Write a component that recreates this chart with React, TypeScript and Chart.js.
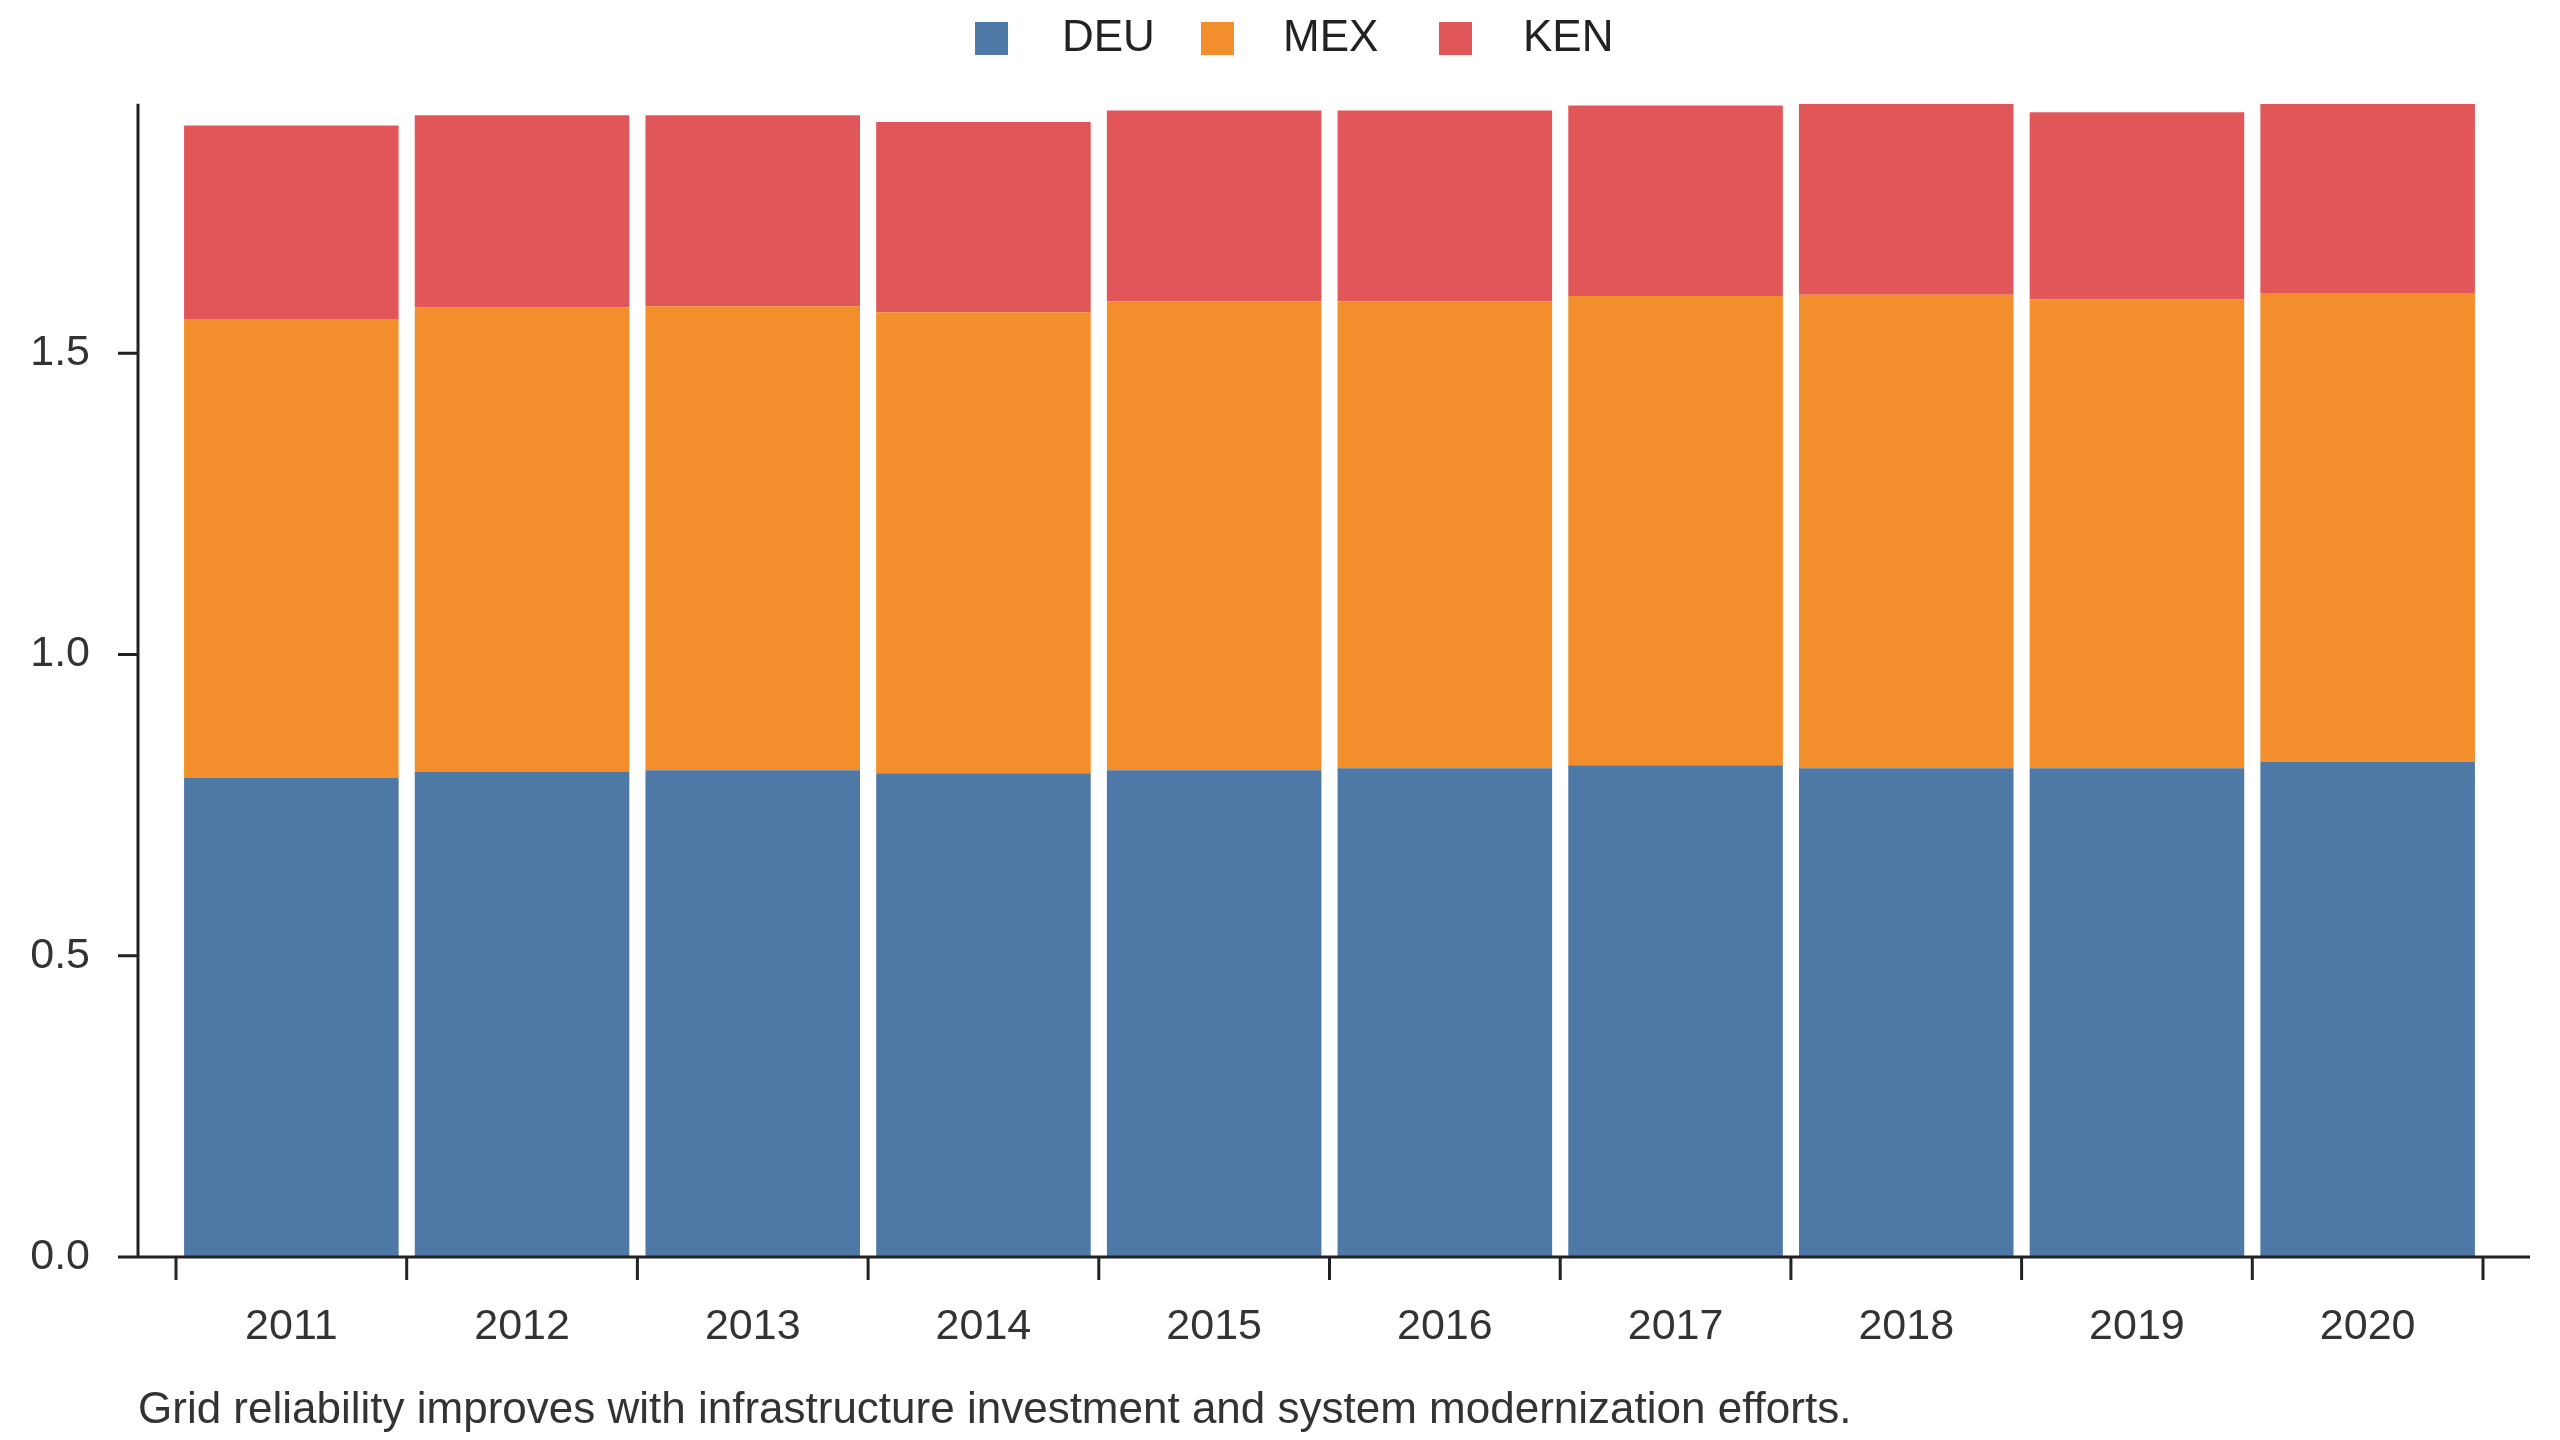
import React, { useEffect, useRef } from "react";
import { Chart, registerables } from "chart.js";
Chart.register(...registerables);

const years = ["2011","2012","2013","2014","2015","2016","2017","2018","2019","2020"];
const deu = [0.795,0.805,0.808,0.803,0.808,0.811,0.816,0.811,0.811,0.822];
const mex = [0.762,0.771,0.770,0.765,0.778,0.775,0.779,0.786,0.778,0.778];
const ken = [0.321,0.319,0.317,0.316,0.317,0.317,0.316,0.317,0.311,0.314];
const yTicks = [0, 0.5, 1.0, 1.5];
const seriesNames = ["DEU", "MEX", "KEN"];
const colors = ["#4e79a7", "#f28e2b", "#e15759"];
const caption = "Grid reliability improves with infrastructure investment and system modernization efforts.";

const FONT = "'Liberation Sans', Arial, sans-serif";

export default function App() {
  const ref = useRef<HTMLCanvasElement>(null);
  useEffect(() => {
    document.body.style.margin = "0";
    const totals = years.map((_, i) => deu[i] + mex[i] + ken[i]);
    const ymax = Math.max(...totals);
    const deco = {
      id: "deco",
      afterDraw(c: any) {
        const ctx = c.ctx;
        const a = c.chartArea;
        const y = c.scales.y;
        ctx.save();
        ctx.strokeStyle = "#222";
        ctx.lineWidth = 3;
        const axX = 138;
        ctx.beginPath();
        ctx.moveTo(axX, a.top); ctx.lineTo(axX, a.bottom);
        ctx.moveTo(axX, a.bottom); ctx.lineTo(2530, a.bottom);
        yTicks.forEach(v => { const py = y.getPixelForValue(v); ctx.moveTo(axX - 20, py); ctx.lineTo(axX, py); });
        const w = (a.right - a.left) / years.length;
        for (let i = 0; i <= years.length; i++) { const px = a.left + i * w; ctx.moveTo(px, a.bottom); ctx.lineTo(px, a.bottom + 23); }
        ctx.stroke();
        ctx.font = `44px ${FONT}`;
        ctx.textBaseline = "middle";
        const sq = [975, 1201, 1439], tx = [1062, 1283, 1523];
        seriesNames.forEach((n, i) => {
          ctx.fillStyle = colors[i]; ctx.fillRect(sq[i], 38 - 16, 33, 33);
          ctx.fillStyle = "#222"; ctx.fillText(n, tx[i], 39);
        });
        ctx.fillStyle = "#333";
        ctx.font = `44px ${FONT}`;
        ctx.fillText(caption, 138, 1411);
        ctx.restore();
      },
    };
    const chart = new Chart(ref.current!, {
      type: "bar",
      data: {
        labels: years,
        datasets: [deu, mex, ken].map((d, i) => ({
          label: seriesNames[i], data: d, backgroundColor: colors[i],
          barPercentage: 0.93, categoryPercentage: 1, borderWidth: 0,
        })),
      },
      options: {
        animation: false, responsive: false,
        layout: { padding: { top: 102, right: 77, left: 0, bottom: 0 } },
        plugins: { legend: { display: false }, tooltip: { enabled: false } },
        scales: {
          x: {
            stacked: true, grid: { display: false }, border: { display: false },
            ticks: { color: "#333", font: { size: 43, family: FONT }, padding: 36 },
            afterFit: (s: any) => { s.height = 183; },
          },
          y: {
            stacked: true, min: 0, max: ymax, grid: { display: false }, border: { display: false },
            afterBuildTicks: (s: any) => { s.ticks = yTicks.map(v => ({ value: v })); },
            ticks: { color: "#333", font: { size: 43, family: FONT }, padding: 78, callback: (v: any) => Number(v).toFixed(1) },
            afterFit: (s: any) => { s.width = 176; },
          },
        },
      },
      plugins: [deco],
    });
    return () => chart.destroy();
  }, []);
  return <canvas ref={ref} width={2560} height={1440} style={{ display: "block", width: 2560, height: 1440 }} />;
}
